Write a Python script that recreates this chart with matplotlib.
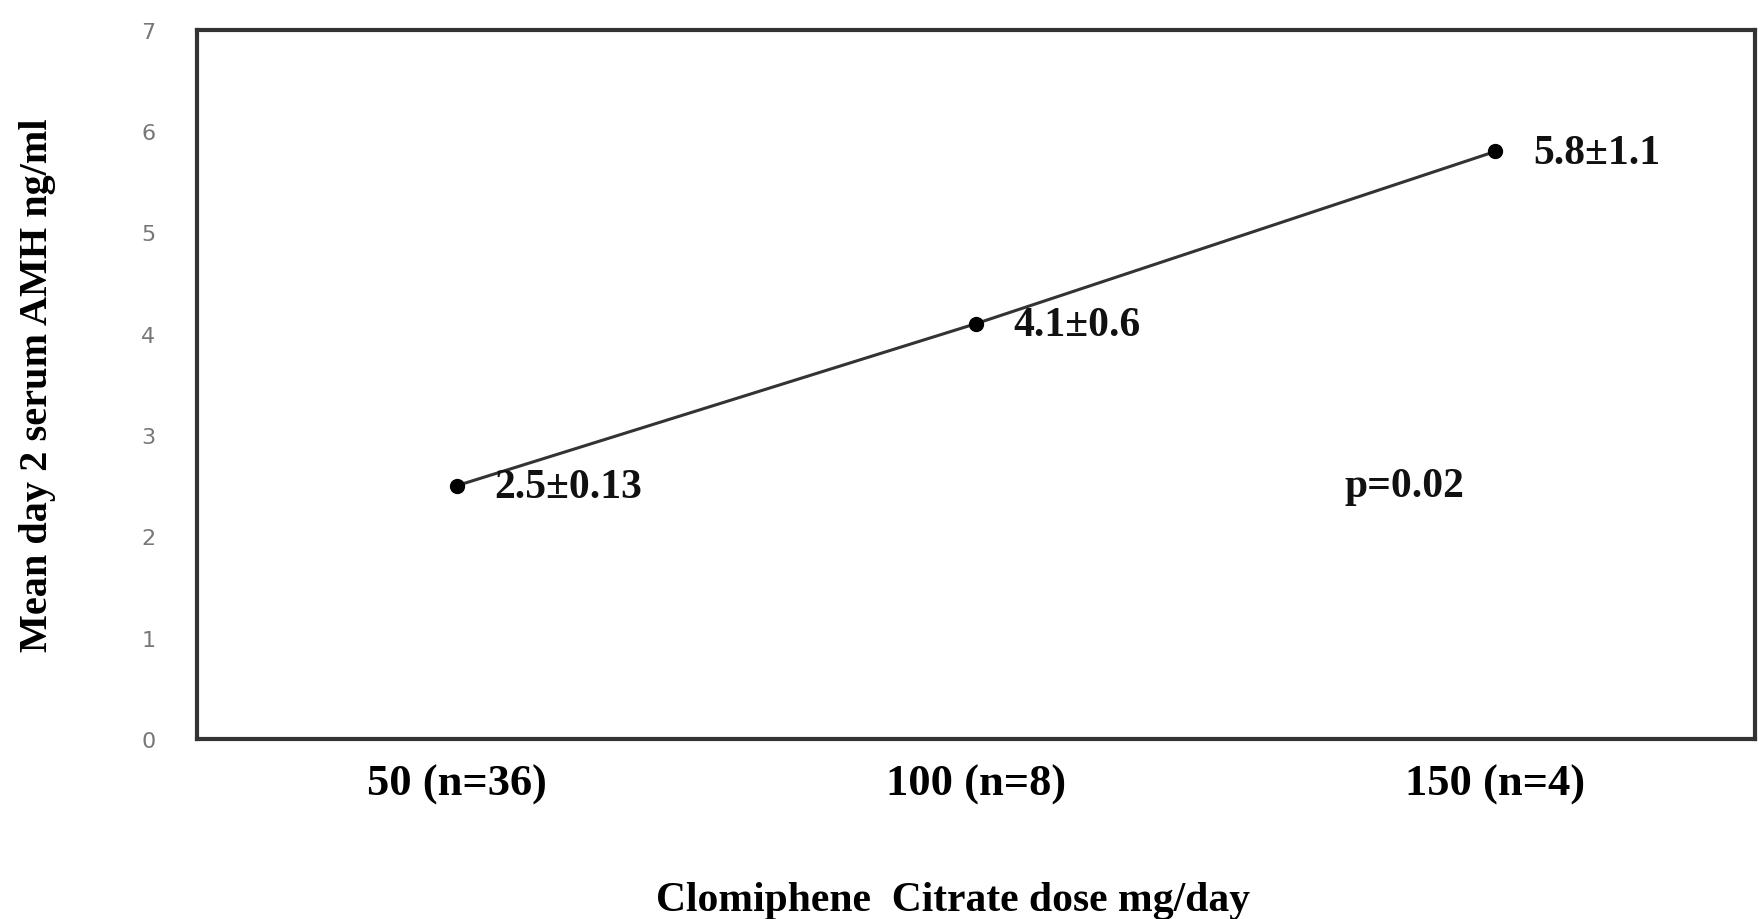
"""
Mean day-2 serum AMH by clomiphene citrate dose.
"""

import matplotlib
matplotlib.use("Agg")
import matplotlib.pyplot as plt

# data
doses = ["50 (n=36)", "100 (n=8)", "150 (n=4)"]
amh_mean = [2.5, 4.1, 5.8]
amh_labels = ["2.5\u00b10.13", "4.1\u00b10.6", "5.8\u00b11.1"]
p_text = "p=0.02"
y_ticks = [0, 1, 2, 3, 4, 5, 6, 7]

serif = "Liberation Serif"

fig = plt.figure(figsize=(17.62, 9.2), dpi=100)
ax = fig.add_axes([0.1118, 0.1957, 0.8842, 0.7707])

x = list(range(len(doses)))
ax.plot(x, amh_mean, color="#333333", linewidth=2.2, marker="o",
        markersize=10, markerfacecolor="black", markeredgecolor="black")

for xi, yi, lab in zip(x, amh_mean, amh_labels):
    ax.annotate(lab, (xi, yi), xytext=(27, -1), textcoords="offset points",
                ha="left", va="center", fontsize=30, fontweight="bold",
                family=serif, color="#111111")

# p-value note, placed in the empty lower right area
ax.text(1.826, 2.5, p_text, ha="center", va="center", fontsize=30,
        fontweight="bold", family=serif, color="#111111")

ax.set_xlim(-0.5, 2.5)
ax.set_ylim(0, 7)
ax.set_xticks(x)
ax.set_xticklabels(doses, fontsize=32, fontweight="bold", family=serif)
ax.set_yticks(y_ticks)
ax.set_yticklabels([str(t) for t in y_ticks], fontsize=16, color="#777777",
                   family="DejaVu Sans")
ax.tick_params(axis="x", length=0, pad=18)
ax.tick_params(axis="y", length=0, pad=30)

for side in ["top", "right", "bottom", "left"]:
    ax.spines[side].set_linewidth(3)
    ax.spines[side].set_color("#333333")

ax.set_ylabel("Mean day 2 serum AMH ng/ml", fontsize=29, fontweight="bold",
              family=serif)
ax.yaxis.set_label_coords(-0.0905, 0.5)
ax.set_xlabel("Clomiphene  Citrate dose mg/day", fontsize=30,
              fontweight="bold", family=serif)
ax.xaxis.set_label_coords(0.485, -0.2)

fig.savefig("out.png", dpi=100)
plt.close(fig)
